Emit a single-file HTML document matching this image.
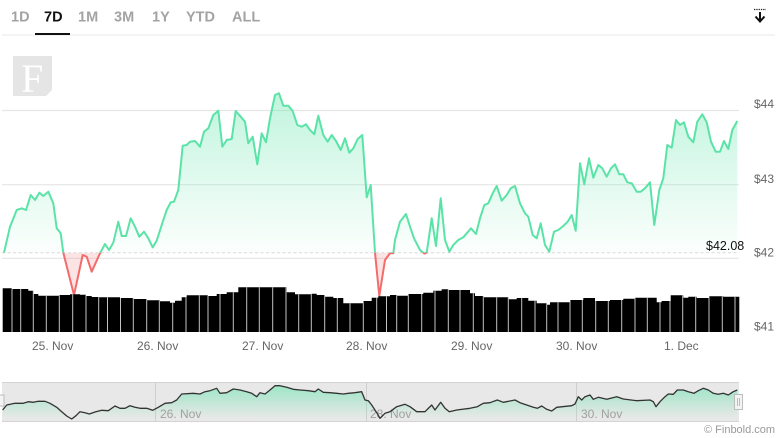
<!DOCTYPE html>
<html><head><meta charset="utf-8"><style>
html,body{margin:0;padding:0;background:#fff;}
svg{display:block;font-family:"Liberation Sans",Arial,sans-serif;}
</style></head><body>
<svg width="780" height="438" viewBox="0 0 780 438" xmlns="http://www.w3.org/2000/svg">
<defs>
<linearGradient id="gfill" x1="0" y1="93" x2="0" y2="253" gradientUnits="userSpaceOnUse">
<stop offset="0" stop-color="#5be3a7" stop-opacity="0.38"/>
<stop offset="1" stop-color="#5be3a7" stop-opacity="0.02"/>
</linearGradient>
<linearGradient id="nfill" x1="0" y1="385" x2="0" y2="418" gradientUnits="userSpaceOnUse">
<stop offset="0" stop-color="#5be3a7" stop-opacity="0.55"/>
<stop offset="1" stop-color="#5be3a7" stop-opacity="0"/>
</linearGradient>
<clipPath id="above"><rect x="0" y="40" width="780" height="212.7"/></clipPath>
<clipPath id="below"><rect x="0" y="252.7" width="780" height="80"/></clipPath>
<path id="volp" d="M2.7,332 V288.3 H12 V289 H28.3 V290.7 H33.3 V294 H38.3 V295.7 H59.3 V295 H70 V294.3 H80 V294.7 H86 V296 H91.7 V297 H98.7 V297.3 H120 V298 H133.3 V299 H146.7 V300.3 H160 V301.3 H170 V302.7 H175 V300.7 H181.7 V297.3 H186.7 V295.3 H208 V296 H216.7 V294 H226.7 V292.3 H238.3 V287.3 H286.7 V292.3 H295 V294.3 H311.7 V293.7 H316.7 V295 H325 V296.7 H333.3 V298 H343.3 V303.3 H363.3 V301 H371.7 V297.7 H378.3 V296.3 H390 V295 H396.7 V295.7 H408.3 V294 H423.3 V292.7 H433.3 V290.7 H441.7 V289.3 H448.3 V290 H470 V293.3 H475 V296 H483.3 V297.3 H508.3 V299.3 H516.7 V298 H528.3 V300.7 H536.7 V303.3 H546.7 V304.7 H550 V302.3 H570 V300 H583.3 V298 H595 V301 H610 V300 H623.3 V298.7 H635 V297.7 H656.7 V302.3 H661.7 V301 H670.7 V295.3 H683.3 V297.7 H688.3 V296.7 H696.7 V298 H709.3 V296.3 H723.3 V296.7 H739.3 V332 Z"/>
<clipPath id="volclip"><use href="#volp"/></clipPath>
<path id="pl" d="M4,252.7 L10,226.7 16.7,210 21.7,208.3 26,210 30.7,195 35,200 39.3,192.7 43.3,196 48.3,191.7 53.3,203.3 56.7,228.3 60.7,233.3 63.3,252.7 74,295 82.7,255 86.7,256.7 91.7,271.7 100,253.3 105,244 109,250 113.3,242.7 118.3,221.7 121.7,236 126,236 130.7,218.3 135,226.7 139.3,236.7 144,231.7 148.3,238.3 152.7,247.3 156.7,240.7 163.3,220 166.7,210 170.7,202.3 174,201.7 178.3,190 182.7,145.7 186.7,145 190,141.7 195,141 200,146.7 204,131.7 208.3,128.3 213.3,115 218.3,110.7 222.3,146.7 226.7,140 231.7,139 235.7,111 240.7,116.7 245,121.7 248.3,143.3 252.7,136.7 257.3,164.3 261.7,133.3 266,142.3 270,118.3 275,95 279,93.3 283.3,105.7 288.3,105.7 292.7,111 297.3,125 301.7,126.7 306,124.3 310,130 314.3,134.3 318.3,115.7 323.3,135 327.7,141.7 331.7,135 336,141 340.7,150 345,138.3 349.3,152.7 353.3,148.3 357.7,139 362.3,135 366.7,197.3 370.7,185 375,252.7 379.3,296 385,260 390,253.3 393.3,253.3 395,240 400,221.7 406,214 410,226.7 414,238.3 420,250 424.3,253.5 426.7,252.7 431.7,218.3 436,246 440.7,198.3 445,240 449.3,251.7 453.3,245 458.3,240 463.3,237.3 471,228.3 476,234 480,218.3 484.3,205 488.3,203.3 492.7,193.3 496.7,186 501.7,200.7 506.7,195 510.7,188.3 515,186 520,203.3 525,213.3 528.3,216.7 532.7,235 536.7,238.3 540.7,223.3 545,245 549.3,251.7 554,231.7 558.3,230 563.3,226 567.7,221.7 571.7,215 575.7,230.7 580,163.3 584.3,184.3 589,158.3 593.3,177.7 598.3,165 602.3,168.3 606.7,176.7 611,168.3 615,164.3 619.3,174.3 623.3,174.3 627.3,182.3 631.7,183.3 636.7,191.7 640.7,191.7 645,188.3 650,182.3 654.3,225 659.3,190 663.3,178.3 667.3,145 671.7,147.7 676,120 680,125 684,122.3 688.3,136.7 693.3,142.3 697.3,121.7 702.3,114.3 706.7,122.3 711,141.7 715.7,151.7 720,151.7 724,141 728.3,149 732.3,130 737.3,121"/>
<path id="pa" d="M4,252.7 L10,226.7 16.7,210 21.7,208.3 26,210 30.7,195 35,200 39.3,192.7 43.3,196 48.3,191.7 53.3,203.3 56.7,228.3 60.7,233.3 63.3,252.7 74,295 82.7,255 86.7,256.7 91.7,271.7 100,253.3 105,244 109,250 113.3,242.7 118.3,221.7 121.7,236 126,236 130.7,218.3 135,226.7 139.3,236.7 144,231.7 148.3,238.3 152.7,247.3 156.7,240.7 163.3,220 166.7,210 170.7,202.3 174,201.7 178.3,190 182.7,145.7 186.7,145 190,141.7 195,141 200,146.7 204,131.7 208.3,128.3 213.3,115 218.3,110.7 222.3,146.7 226.7,140 231.7,139 235.7,111 240.7,116.7 245,121.7 248.3,143.3 252.7,136.7 257.3,164.3 261.7,133.3 266,142.3 270,118.3 275,95 279,93.3 283.3,105.7 288.3,105.7 292.7,111 297.3,125 301.7,126.7 306,124.3 310,130 314.3,134.3 318.3,115.7 323.3,135 327.7,141.7 331.7,135 336,141 340.7,150 345,138.3 349.3,152.7 353.3,148.3 357.7,139 362.3,135 366.7,197.3 370.7,185 375,252.7 379.3,296 385,260 390,253.3 393.3,253.3 395,240 400,221.7 406,214 410,226.7 414,238.3 420,250 424.3,253.5 426.7,252.7 431.7,218.3 436,246 440.7,198.3 445,240 449.3,251.7 453.3,245 458.3,240 463.3,237.3 471,228.3 476,234 480,218.3 484.3,205 488.3,203.3 492.7,193.3 496.7,186 501.7,200.7 506.7,195 510.7,188.3 515,186 520,203.3 525,213.3 528.3,216.7 532.7,235 536.7,238.3 540.7,223.3 545,245 549.3,251.7 554,231.7 558.3,230 563.3,226 567.7,221.7 571.7,215 575.7,230.7 580,163.3 584.3,184.3 589,158.3 593.3,177.7 598.3,165 602.3,168.3 606.7,176.7 611,168.3 615,164.3 619.3,174.3 623.3,174.3 627.3,182.3 631.7,183.3 636.7,191.7 640.7,191.7 645,188.3 650,182.3 654.3,225 659.3,190 663.3,178.3 667.3,145 671.7,147.7 676,120 680,125 684,122.3 688.3,136.7 693.3,142.3 697.3,121.7 702.3,114.3 706.7,122.3 711,141.7 715.7,151.7 720,151.7 724,141 728.3,149 732.3,130 737.3,121 L737.3,252.7 Z"/>
</defs>

<!-- Tabs -->
<g font-size="14.5" font-weight="bold" fill="#a3a3a3">
<text x="11" y="21.5">1D</text>
<text x="44" y="21.5" fill="#111">7D</text>
<text x="78" y="21.5">1M</text>
<text x="114" y="21.5">3M</text>
<text x="152" y="21.5">1Y</text>
<text x="186" y="21.5">YTD</text>
<text x="232" y="21.5">ALL</text>
</g>
<line x1="2" y1="35" x2="775" y2="35" stroke="#e8e8e8" stroke-width="1"/>
<rect x="35" y="33" width="35" height="2" fill="#111"/>

<!-- download icon -->
<line x1="754" y1="9.5" x2="766" y2="9.5" stroke="#222" stroke-width="1.2" stroke-dasharray="1.3,1"/>
<path d="M760,12 V20.5" stroke="#111" stroke-width="2"/>
<path d="M755.5,16.5 L760,21.5 L764.5,16.5" fill="none" stroke="#111" stroke-width="2"/>

<!-- logo -->
<path d="M13,56 H52 V90 L46,96 H13 Z" fill="#e5e5e5"/>
<text x="21" y="92" font-family="Liberation Serif,serif" font-size="40" fill="#fff">F</text>

<!-- gridlines -->
<g stroke="#e6e6e6" stroke-width="1.2">
<line x1="2" y1="110.5" x2="739" y2="110.5"/>
<line x1="2" y1="184.7" x2="739" y2="184.7"/>
<line x1="2" y1="258.3" x2="739" y2="258.3"/>
</g>
<g font-size="12" fill="#666">
<text x="754" y="108">$44</text>
<text x="754" y="183">$43</text>
<text x="754" y="256.5">$42</text>
<text x="754" y="330.5">$41</text>
</g>

<!-- area fill -->
<use href="#pa" clip-path="url(#above)" fill="url(#gfill)"/>
<use href="#pa" clip-path="url(#below)" fill="#f36b6b" fill-opacity="0.18"/>

<!-- dashed current price line -->
<line x1="2" y1="252.7" x2="739" y2="252.7" stroke="#d9d9d9" stroke-width="1" stroke-dasharray="3,2.5"/>
<text x="706" y="250" font-size="12.5" fill="#111">$42.08</text>

<!-- price line -->
<use href="#pl" clip-path="url(#above)" fill="none" stroke="#5be3a7" stroke-width="2" stroke-linejoin="round"/>
<use href="#pl" clip-path="url(#below)" fill="none" stroke="#f36b6b" stroke-width="2" stroke-linejoin="round"/>

<!-- volume -->
<use href="#volp" fill="#000"/>
<g clip-path="url(#volclip)" stroke="#c4c4c4" stroke-width="1">
<path d="M12,280V332 M20.7,280V332 M33.3,280V332 M46.3,280V332 M59.3,280V332 M72.7,280V332 M86,280V332 M98.7,280V332 M107.5,280V332 M120.5,280V332 M133.3,280V332 M146.7,280V332 M159.3,280V332 M172.7,280V332 M186,280V332 M199.3,280V332 M208,280V332 M220,280V332 M233.3,280V332 M246.7,280V332 M259.3,280V332 M272.7,280V332 M286,280V332 M298.7,280V332 M311.3,280V332 M324.7,280V332 M337.3,280V332 M350,280V332 M363.3,280V332 M376.7,280V332 M386.5,280V332 M396.7,280V332 M408.3,280V332 M421.7,280V332 M435,280V332 M448.3,280V332 M460,280V332 M473.3,280V332 M483.3,280V332 M496.7,280V332 M508.3,280V332 M521.7,280V332 M535,280V332 M546.7,280V332 M558,280V332 M570,280V332 M582.3,280V332 M595.7,280V332 M608.3,280V332 M621.7,280V332 M635,280V332 M647.3,280V332 M660,280V332 M670,280V332 M682.7,280V332 M695.7,280V332 M709,280V332 M722.3,280V332 M735,280V332"/>
</g>

<!-- x labels -->
<g font-size="12" fill="#666">
<text x="32" y="350">25. Nov</text>
<text x="137" y="350">26. Nov</text>
<text x="242" y="350">27. Nov</text>
<text x="346" y="350">28. Nov</text>
<text x="451" y="350">29. Nov</text>
<text x="556" y="350">30. Nov</text>
<text x="664" y="350">1. Dec</text>
</g>

<!-- navigator -->
<rect x="2" y="382" width="737" height="40" fill="#e8e8e8"/>
<line x1="2" y1="382.5" x2="739" y2="382.5" stroke="#d4d4d4" stroke-width="1"/>
<line x1="2" y1="421.5" x2="739" y2="421.5" stroke="#d4d4d4" stroke-width="1"/>
<g stroke="#cfcfcf" stroke-width="1">
<line x1="155.5" y1="382" x2="155.5" y2="422"/>
<line x1="366.5" y1="382" x2="366.5" y2="422"/>
<line x1="576.5" y1="382" x2="576.5" y2="422"/>
</g>
<path fill="url(#nfill)" d="M2.7,422 L2.7,410 6.7,405 15,403.3 23.3,403.3 28.3,401.7 33.3,402.3 38.3,401.3 45,401.3 50,403.3 56.7,407.3 61.7,411.7 66.7,416 71.7,419 76,415.7 80,411.7 85,412.7 89.3,414 95,412 101.7,410.3 108.3,410.7 115,406 120,408.3 125,408.3 130,405.7 135,407.3 140,408.3 146.7,408.3 152.7,410.3 158.3,407.3 165,403.3 171.7,402.7 176.7,400 181.7,394 193.3,393.3 200,394 205,391.7 210,390.7 216.7,388.3 220,393.3 226.7,392.7 233.3,389 240,390 246.7,391.7 251.7,393.3 256.7,396.7 260,392.7 265,394 270,390 275,385.7 280,385.7 286.7,387.3 293.3,389.3 300,390 308.3,390.7 315,391.7 318.3,389 323.3,392.3 330,392.7 336.7,393.3 343.3,394 348.3,393.3 355,392.7 361.7,391.7 365,400 368.3,400.7 371.7,405 376.7,412.7 380,418.3 385,413.3 390,411.7 396.7,406.7 405,404.3 410,406.7 416.7,411.7 425,411.7 431.7,405 435,410 440.7,402.3 445,408.3 449.3,411.7 456.7,410 470,408.3 477.3,406.7 483.3,403.3 490,402.7 497.3,400 503.3,402.3 515,400 520,402.7 526.7,405 533.3,407.3 537.3,408.3 541.7,406 546.7,409.3 551.7,411 556.7,407.3 571.7,405.7 575,404 578.3,396.7 581.7,400 585,396.7 590,395 593.3,399.3 598.3,397.3 606.7,399.3 616.7,396.7 623.3,399 636.7,400.7 650,400 653.3,401.7 656,406.7 660,401.7 665,396.7 668.3,394 673.3,394.3 677.3,390 683.3,390 688.3,391.7 694,393.3 698.3,390.7 703.3,388.3 708.3,390 713.3,393.3 718.3,394.3 723.3,393.3 728.3,395 733.3,391.7 737.3,390 L737.3,422 Z"/>
<g font-size="12" fill="#a0a0a0">
<text x="160" y="418">26. Nov</text>
<text x="370" y="418">28. Nov</text>
<text x="581" y="418">30. Nov</text>
</g>
<path fill="none" stroke="#333" stroke-width="1.3" stroke-linejoin="round" d="M2.7,410 L6.7,405 15,403.3 23.3,403.3 28.3,401.7 33.3,402.3 38.3,401.3 45,401.3 50,403.3 56.7,407.3 61.7,411.7 66.7,416 71.7,419 76,415.7 80,411.7 85,412.7 89.3,414 95,412 101.7,410.3 108.3,410.7 115,406 120,408.3 125,408.3 130,405.7 135,407.3 140,408.3 146.7,408.3 152.7,410.3 158.3,407.3 165,403.3 171.7,402.7 176.7,400 181.7,394 193.3,393.3 200,394 205,391.7 210,390.7 216.7,388.3 220,393.3 226.7,392.7 233.3,389 240,390 246.7,391.7 251.7,393.3 256.7,396.7 260,392.7 265,394 270,390 275,385.7 280,385.7 286.7,387.3 293.3,389.3 300,390 308.3,390.7 315,391.7 318.3,389 323.3,392.3 330,392.7 336.7,393.3 343.3,394 348.3,393.3 355,392.7 361.7,391.7 365,400 368.3,400.7 371.7,405 376.7,412.7 380,418.3 385,413.3 390,411.7 396.7,406.7 405,404.3 410,406.7 416.7,411.7 425,411.7 431.7,405 435,410 440.7,402.3 445,408.3 449.3,411.7 456.7,410 470,408.3 477.3,406.7 483.3,403.3 490,402.7 497.3,400 503.3,402.3 515,400 520,402.7 526.7,405 533.3,407.3 537.3,408.3 541.7,406 546.7,409.3 551.7,411 556.7,407.3 571.7,405.7 575,404 578.3,396.7 581.7,400 585,396.7 590,395 593.3,399.3 598.3,397.3 606.7,399.3 616.7,396.7 623.3,399 636.7,400.7 650,400 653.3,401.7 656,406.7 660,401.7 665,396.7 668.3,394 673.3,394.3 677.3,390 683.3,390 688.3,391.7 694,393.3 698.3,390.7 703.3,388.3 708.3,390 713.3,393.3 718.3,394.3 723.3,393.3 728.3,395 733.3,391.7 737.3,390"/>
<!-- handles -->
<rect x="-2" y="395" width="6" height="11" fill="#f4f4f4" stroke="#bdbdbd" stroke-width="1"/>
<rect x="734.5" y="394.5" width="8" height="15" fill="#f4f4f4" stroke="#bdbdbd" stroke-width="1"/>
<line x1="737.5" y1="398" x2="737.5" y2="406" stroke="#bdbdbd"/>
<line x1="739.5" y1="398" x2="739.5" y2="406" stroke="#bdbdbd"/>

<text x="704" y="433" font-size="11" fill="#999">© Finbold.com</text>
</svg>
</body></html>
